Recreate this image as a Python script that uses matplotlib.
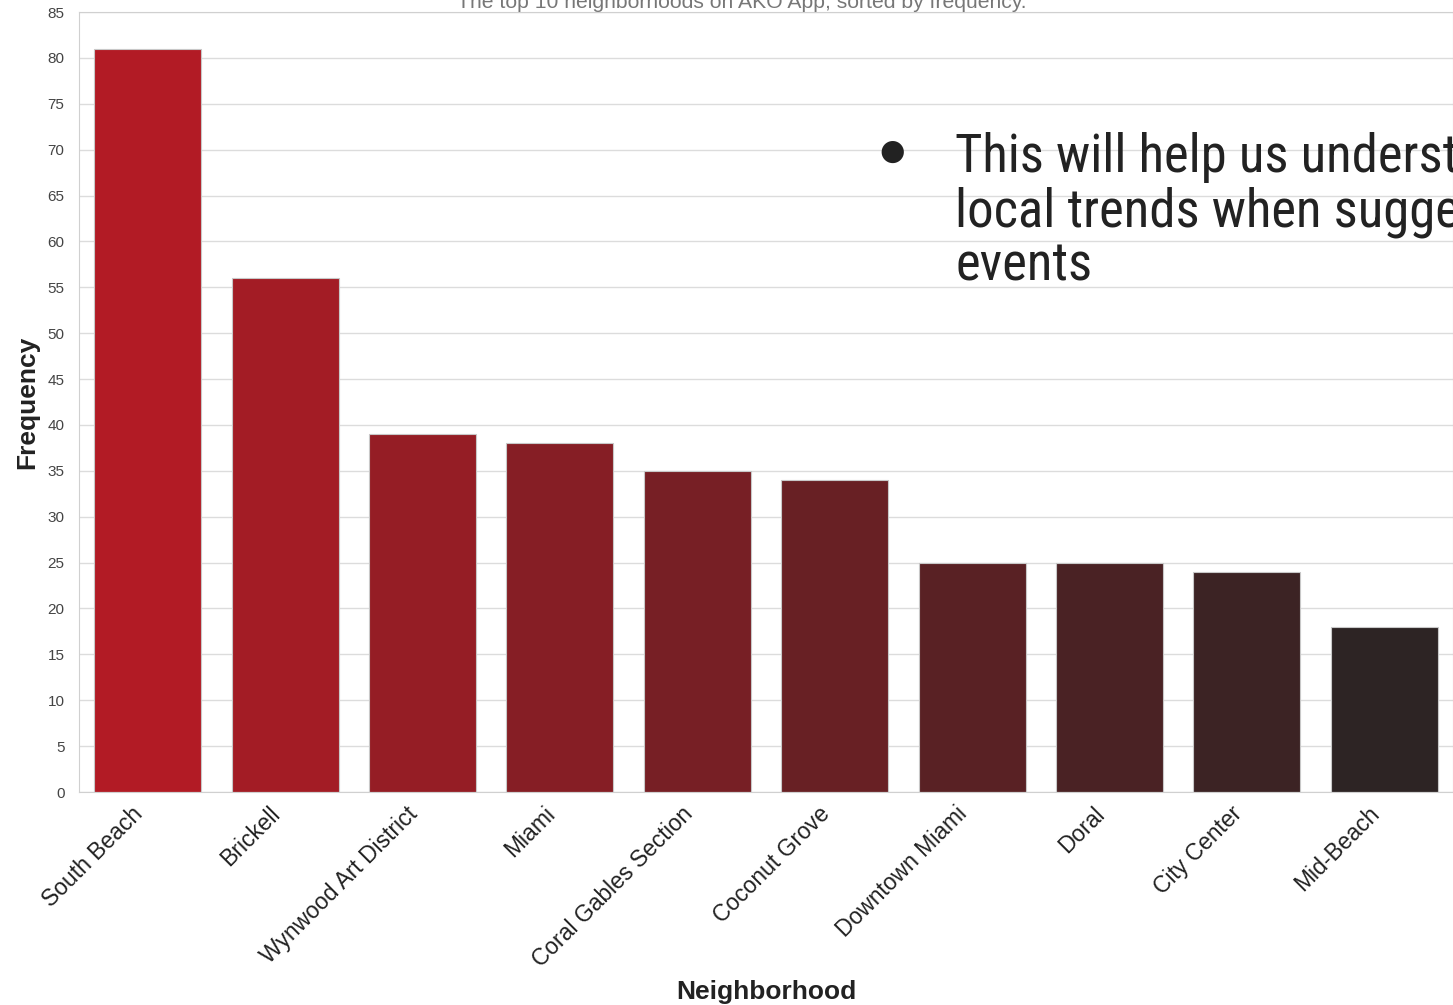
import numpy as np
import matplotlib
matplotlib.use('Agg')
import matplotlib.pyplot as plt
import seaborn as sns
from matplotlib.colors import LinearSegmentedColormap

# Data
neighborhoods = ['South Beach', 'Brickell', 'Wynwood Art District', 'Miami',
                 'Coral Gables Section', 'Coconut Grove', 'Downtown Miami',
                 'Doral', 'City Center', 'Mid-Beach']
frequency = [81, 56, 39, 38, 35, 34, 25, 25, 24, 18]
yticks = list(range(0, 90, 5))

title = 'The top 10 neighborhoods on AKO App, sorted by frequency.'
note_lines = ['This will help us underst', 'local trends when sugge', 'events']

sns.set_style('whitegrid')
plt.rcParams['font.family'] = ['Liberation Sans', 'DejaVu Sans']

fig = plt.figure(figsize=(14.53, 10.05), dpi=100)
ax = fig.add_axes([79 / 1453, 213 / 1005, 1 - 79 / 1453, 780 / 1005])

# red -> near-black gradient across bars
cmap = LinearSegmentedColormap.from_list('reds_dark', ['#b21b25', '#2d2424'])
colors = [cmap(v) for v in np.linspace(0, 1, len(neighborhoods))]

x = np.arange(len(neighborhoods))
ax.bar(x, frequency, width=0.78, color=colors, edgecolor='#c8c8c8', linewidth=0.8, zorder=2)

ax.set_xlim(-0.5, len(neighborhoods) - 0.5)
ax.set_ylim(0, 85)
ax.set_yticks(yticks)
ax.tick_params(axis='y', labelsize=11, colors='#444444', pad=7)
ax.tick_params(axis='x', labelsize=16.5, colors='#222222', pad=4)
ax.set_xticks(x)
ax.set_xticklabels(neighborhoods, rotation=45, ha='right')
ax.grid(axis='x', visible=False)
ax.grid(axis='y', color='#dcdcdc', linewidth=1.0, zorder=0)
for s in ax.spines.values():
    s.set_color('#d0d0d0')

ax.set_ylabel('Frequency', fontsize=19, fontweight='bold', color='#222222', labelpad=6)
ax.set_xlabel('Neighborhood', fontsize=19, fontweight='bold', color='#222222', labelpad=6)

# title mostly cut off at top of the screenshot
fig.text(742 / 1453, 1 - 8 / 1005, title, ha='center', va='baseline',
         fontsize=15.2, color='#777777')

# overlaid slide bullet text
note_font = ['Liberation Sans Narrow', 'Roboto Condensed', 'DejaVu Sans']
fig.text(892 / 1453, 1 - 152 / 1005, '\u25cf', ha='center', va='center',
         fontsize=21, color='#222222', family='DejaVu Sans')
for i, line in enumerate(note_lines):
    fig.text(955 / 1453, 1 - (172 + 54 * i) / 1005, line, ha='left', va='baseline',
             fontsize=38, color='#222222', family=note_font)

fig.savefig('out.png', dpi=100)
